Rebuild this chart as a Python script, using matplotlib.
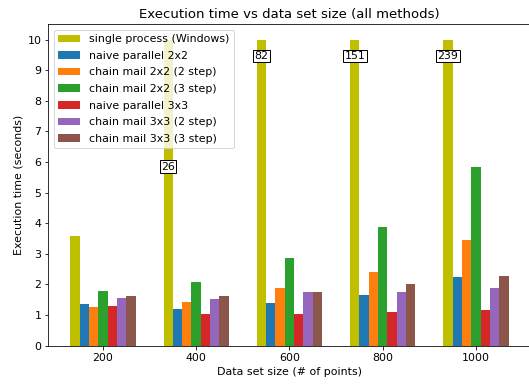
import numpy as np
import matplotlib
matplotlib.use("Agg")
import matplotlib.pyplot as plt
from matplotlib.patches import Rectangle

sizes = ['200', '400', '600', '800', '1000']
methods = ['single process (Windows)', 'naive parallel 2x2', 'chain mail 2x2 (2 step)',
           'chain mail 2x2 (3 step)', 'naive parallel 3x3', 'chain mail 3x3 (2 step)',
           'chain mail 3x3 (3 step)']

single_process = [3.57, 26, 82, 151, 239]
naive_2x2 = [1.36, 1.21, 1.39, 1.65, 2.23]
chain_2x2_2step = [1.25, 1.42, 1.90, 2.41, 3.44]
chain_2x2_3step = [1.78, 2.07, 2.85, 3.87, 5.85]
naive_3x3 = [1.29, 1.02, 1.05, 1.10, 1.17]
chain_3x3_2step = [1.57, 1.54, 1.76, 1.76, 1.88]
chain_3x3_3step = [1.62, 1.64, 1.76, 2.01, 2.27]

series = [single_process, naive_2x2, chain_2x2_2step, chain_2x2_3step,
          naive_3x3, chain_3x3_2step, chain_3x3_3step]
colors = ['y', 'tab:blue', 'tab:orange', 'tab:green', 'tab:red', 'tab:purple', 'tab:brown']

plt.rcParams['font.size'] = 11

fig = plt.figure(figsize=(529 / 72, 385 / 72), dpi=72)
ax = fig.add_axes([48.3 / 529, 39.3 / 385, 482.3 / 529, 321.4 / 385])

x = np.arange(len(sizes))
width = 0.1
cap = 10  # bars are cut off at 10 s, long runs get a text label instead
for i, (vals, name, c) in enumerate(zip(series, methods, colors)):
    bars = ax.bar(x + (i - 3) * width, vals, width, label=name, color=c)
    clip = Rectangle((-1, 0), 7, cap, transform=ax.transData)
    for b in bars:
        b.set_clip_path(clip)

ax.set_ylim(0, 10.5)
ax.set_yticks(range(0, 11))
ax.set_xticks(x)
ax.set_xticklabels(sizes)

label_y = [None, 5.85, 9.47, 9.47, 9.47]
for xi, v, ly in zip(x, single_process, label_y):
    if v > cap:
        ax.text(xi - 3 * width, ly, f'{v}', ha='center', va='center', fontsize=11,
                bbox=dict(facecolor='white', edgecolor='black', boxstyle='square,pad=0.12'))

ax.set_title('Execution time vs data set size (all methods)', fontsize=13.2)
ax.set_xlabel('Data set size (# of points)')
ax.set_ylabel('Execution time (seconds)')
ax.legend(loc='upper left', labelspacing=0.6)

fig.savefig('out.png', dpi=72)
